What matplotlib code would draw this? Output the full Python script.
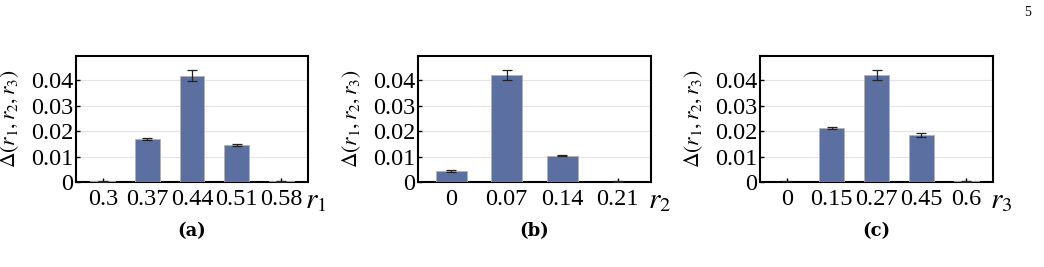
import matplotlib
matplotlib.use("Agg")
import matplotlib.pyplot as plt

plt.rcParams['font.family'] = 'serif'
plt.rcParams['font.serif'] = ['Liberation Serif', 'DejaVu Serif']
plt.rcParams['mathtext.fontset'] = 'stix'

# panel data
r1_labels = ["0.3", "0.37", "0.44", "0.51", "0.58"]
r1_vals = [0.0002, 0.0169, 0.0418, 0.0147, 0.0002]
r1_err = [0.0002, 0.0004, 0.0020, 0.0004, 0.0002]

r2_labels = ["0", "0.07", "0.14", "0.21"]
r2_vals = [0.0043, 0.0419, 0.0104, 0.0001]
r2_err = [0.0004, 0.0020, 0.0003, 0.0002]

r3_labels = ["0", "0.15", "0.27", "0.45", "0.6"]
r3_vals = [0.0001, 0.0212, 0.0419, 0.0185, 0.0002]
r3_err = [0.0004, 0.0003, 0.0020, 0.0007, 0.0002]

y_ticks = [0, 0.01, 0.02, 0.03, 0.04]
y_labels = ["0", "0.01", "0.02", "0.03", "0.04"]

panels = [
    (r1_labels, r1_vals, r1_err, r"$r_1$", "(a)", [0.0728, 0.3184, 0.2222, 0.4719]),
    (r2_labels, r2_vals, r2_err, r"$r_2$", "(b)", [0.4004, 0.3184, 0.2232, 0.4719]),
    (r3_labels, r3_vals, r3_err, r"$r_3$", "(c)", [0.7280, 0.3184, 0.2232, 0.4719]),
]

fig = plt.figure(figsize=(10.44, 2.67), dpi=100)

for labels, vals, errs, xl, cap, rect in panels:
    ax = fig.add_axes(rect)
    x = list(range(len(labels)))
    ax.bar(x, vals, width=0.56, color="#5b70a1", edgecolor="#b0b0b8", linewidth=0.6,
           zorder=3)
    ax.errorbar(x, vals, yerr=errs, fmt="none", ecolor="#222222", elinewidth=0.9,
                capsize=3.6, capthick=0.9, zorder=4)
    ax.set_xlim(-0.6, len(labels) - 1 + 0.6)
    ax.set_ylim(0, 0.0495)
    ax.set_xticks(x)
    ax.set_xticklabels(labels, fontsize=17.5)
    ax.set_yticks(y_ticks)
    ax.set_yticklabels(y_labels, fontsize=17.5)
    ax.tick_params(direction="in", length=3, width=1)
    ax.tick_params(axis="x", pad=5)
    ax.tick_params(axis="y", pad=2)
    ax.grid(axis="y", color="#e4e4e4", linewidth=0.8, zorder=0)
    for s in ax.spines.values():
        s.set_linewidth(1.5)
    ax.set_ylabel(r"$\Delta(r_1,r_2,r_3)$", fontsize=15.5)
    ax.yaxis.set_label_coords(-0.235, 0.5)
    ax.text(0.985, -0.15, xl, transform=ax.transAxes, fontsize=21,
            ha="left", va="center")
    ax.text(0.5, -0.39, cap, transform=ax.transAxes, fontsize=13,
            family="DejaVu Serif", fontweight="bold", ha="center", va="center")

fig.text(0.984, 0.955, "5", fontsize=10, ha="center", va="center")

fig.savefig("out.png", dpi=100)
